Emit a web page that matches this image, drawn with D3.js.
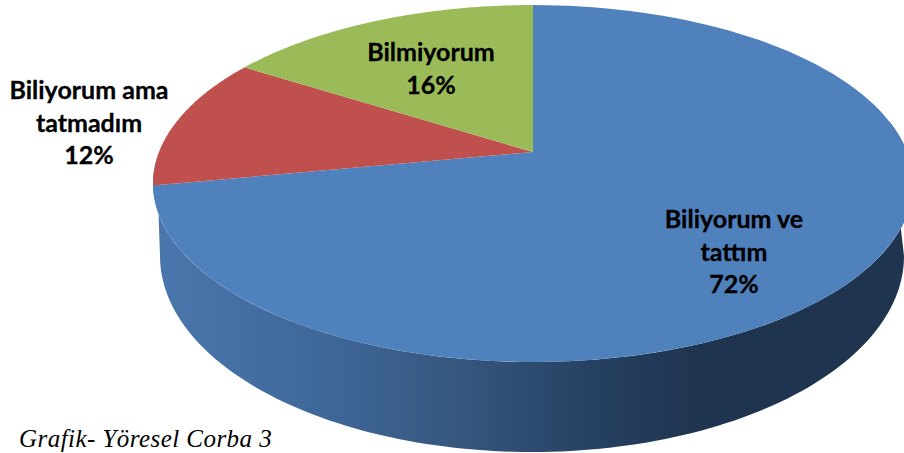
<!DOCTYPE html>
<html>
<head>
<meta charset="utf-8">
<script src="https://cdn.jsdelivr.net/npm/d3@7"></script>
<style>
  html, body { margin: 0; padding: 0; background: #fff; overflow: hidden; }
  svg { display: block; }
  .label { font-family: Lato, "Open Sans", sans-serif; font-weight: 700; font-size: 25px; text-anchor: middle; fill: #000; stroke: #000; stroke-width: 0.3px; }
  .caption { font-family: "Liberation Serif", serif; font-style: italic; font-size: 25px; fill: #000; letter-spacing: 0.45px; }
</style>
</head>
<body>
<svg id="chart" width="904" height="453"></svg>
<script>
  const categories = ["Biliyorum ve tattım", "Biliyorum ama tatmadım", "Bilmiyorum"];
  const values = [72, 12, 16];
  const colors = ["#4f81bd", "#c0504d", "#9bbb59"];
  const labelLines = [["Biliyorum ve", "tattım"], ["Biliyorum ama", "tatmadım"], ["Bilmiyorum"]];
  const labelPos = [[734, 228], [89, 99], [431, 61]];
  const captionText = "Grafik- Yöresel Corba 3";

  const svg = d3.select("#chart");

  // tilted pie: apex of the slices sits above the middle of the ellipse
  const apex = { x: 533, y: 152 };
  const radius = 374;
  const tilt = 0.1765;
  const squash = 172.9;

  function project(a) {
    const px = Math.sin(a), py = Math.cos(a);
    const w = 1 + tilt * py;
    return [apex.x + radius * px / w, apex.y - squash * py / w];
  }

  const pie = d3.pie().sort(null).value(d => d);
  const arcs = pie(values);
  const line = d3.line();

  function slicePath(d) {
    const steps = d3.range(0, 121).map(i => d.startAngle + (d.endAngle - d.startAngle) * i / 120);
    return line([[apex.x, apex.y], ...steps.map(project)]) + "Z";
  }

  // side wall, lower rim is its own ellipse
  const rim = { x: 532, y: 256, rx: 372, ry: 196 };

  const defs = svg.append("defs");
  const grad = defs.append("linearGradient")
    .attr("id", "side")
    .attr("gradientUnits", "userSpaceOnUse")
    .attr("x1", 153).attr("x2", 700).attr("y1", 0).attr("y2", 0);
  [[0, "#4a77ae"], [0.3, "#3f689a"], [0.55, "#36587f"], [0.8, "#264163"], [1, "#1f344e"]].forEach(s => {
    grad.append("stop").attr("offset", s[0]).attr("stop-color", s[1]);
  });

  const topRimPts = d3.range(0, 121).map(i => project(Math.PI * 0.44 + (Math.PI * 1.5 - Math.PI * 0.44 - 0.04) * i / 120));
  const lowRimPts = d3.range(0, 121).map(i => {
    const t = Math.PI * (1 - i / 120);
    return [rim.x + rim.rx * Math.cos(t), rim.y + rim.ry * Math.sin(t)];
  });

  svg.append("path")
    .attr("d", line([...topRimPts, ...lowRimPts]) + "Z")
    .attr("fill", "url(#side)");

  svg.selectAll(".slice")
    .data(arcs)
    .enter().append("path")
      .attr("class", "slice")
      .attr("d", slicePath)
      .attr("fill", (d, i) => colors[i]);

  const labels = svg.selectAll(".label")
    .data(categories)
    .enter().append("text")
      .attr("class", "label")
      .attr("x", (d, i) => labelPos[i][0])
      .attr("y", (d, i) => labelPos[i][1]);

  labels.each(function(d, i) {
    const t = d3.select(this);
    labelLines[i].concat(values[i] + "%").forEach((s, j) => {
      t.append("tspan")
        .attr("x", labelPos[i][0])
        .attr("dy", j ? 32.5 : 0)
        .text(s);
    });
  });

  svg.append("text")
    .attr("class", "caption")
    .attr("x", 19)
    .attr("y", 447)
    .text(captionText);
</script>
</body>
</html>
